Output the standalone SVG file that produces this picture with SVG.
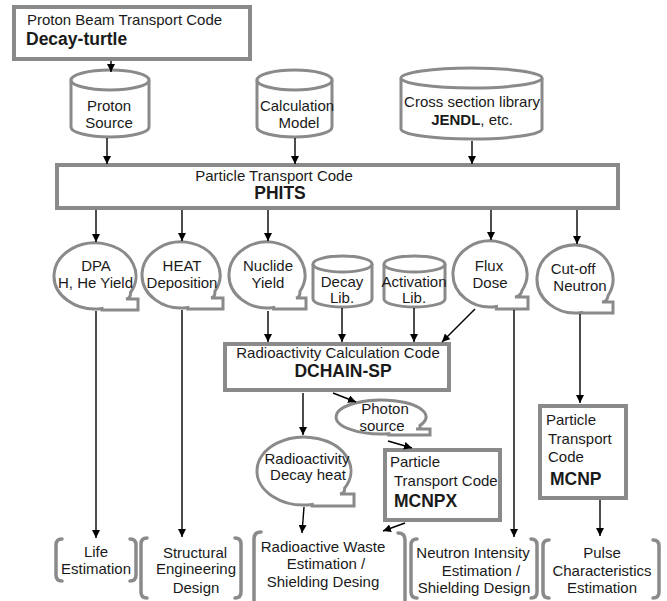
<svg xmlns="http://www.w3.org/2000/svg" width="667" height="601" viewBox="0 0 667 601">
<style>
text{font-family:"Liberation Sans",Arial,sans-serif;font-size:15px;fill:#1a1a1a}
.b{font-weight:bold;font-size:17.5px}
.bm{font-weight:bold}
.c{text-anchor:middle}
.box{fill:#fff;stroke:#8a8a8a;stroke-width:4}
.shp{fill:#fff;stroke:#8a8a8a;stroke-width:3}
.brk{fill:none;stroke:#8a8a8a;stroke-width:3.5;stroke-linecap:round}
.ar{fill:none;stroke:#000;stroke-width:1.4;marker-end:url(#ah)}
</style>
<defs>
<marker id="ah" viewBox="0 0 10 10" refX="10" refY="5" markerWidth="8" markerHeight="8" markerUnits="userSpaceOnUse" orient="auto">
<path d="M0,0 L10,5 L0,10 z" fill="#000"/>
</marker>
</defs>
<rect width="667" height="601" fill="#fff"/>

<g id="decay-turtle">
<rect class="box" x="14" y="7" width="236" height="52"/>
<text x="27" y="25">Proton Beam Transport Code</text>
<text class="b" x="26" y="45">Decay-turtle</text>
</g>

<g id="proton-source">
<path class="shp" d="M71,80 L71,127 A39,10 0 0 0 149,127 L149,80"/>
<ellipse class="shp" cx="110" cy="80" rx="39" ry="10"/>
<text class="c" x="109" y="111">Proton</text>
<text class="c" x="109" y="128">Source</text>
</g>

<g id="calculation-model">
<path class="shp" d="M257,80 L257,127 A37.5,10 0 0 0 332,127 L332,80"/>
<ellipse class="shp" cx="294.5" cy="80" rx="37.5" ry="10"/>
<text class="c" x="297" y="111">Calculation</text>
<text class="c" x="299" y="128">Model</text>
</g>

<g id="cross-section">
<path class="shp" d="M401,78 L401,129 A70.5,10 0 0 0 542,129 L542,78"/>
<ellipse class="shp" cx="471.5" cy="78" rx="70.5" ry="10"/>
<text class="c" x="472" y="107">Cross section library</text>
<text class="c" x="472" y="125"><tspan class="bm">JENDL</tspan>, etc.</text>
</g>

<g id="phits">
<rect class="box" x="57" y="165" width="561" height="43"/>
<text class="c" x="274" y="181">Particle Transport Code</text>
<text class="b c" x="280" y="199">PHITS</text>
</g>

<g id="dpa">
<path class="shp" d="M102,308.5 A41,33 0 1 1 130.5,292.5 Q131,298 126,299 L138,299 L138,310 L102,310 Z"/>
<text class="c" x="96" y="271">DPA</text>
<text class="c" x="95.5" y="288">H, He Yield</text>
</g>

<g id="heat">
<path class="shp" d="M187.8,307.5 A39,33 0 1 1 214.8,291.5 Q215.5,297 211,298 L223,298 L223,309 L187.8,309 Z"/>
<text class="c" x="182" y="271">HEAT</text>
<text class="c" x="182" y="288">Deposition</text>
</g>

<g id="nuclide">
<path class="shp" d="M273.6,307.5 A38,33 0 1 1 299.9,291.5 Q300.5,297 296,298 L306,298 L306,309 L273.6,309 Z"/>
<text class="c" x="268" y="271">Nuclide</text>
<text class="c" x="268" y="288">Yield</text>
</g>

<g id="decay-lib">
<path class="shp" d="M313,264 L313,299 A29.5,8 0 0 0 372,299 L372,264"/>
<ellipse class="shp" cx="342.5" cy="264" rx="29.5" ry="8"/>
<text class="c" x="342" y="287">Decay</text>
<text class="c" x="342" y="303">Lib.</text>
</g>

<g id="activation-lib">
<path class="shp" d="M384,264 L384,299 A30.5,8 0 0 0 445,299 L445,264"/>
<ellipse class="shp" cx="414.5" cy="264" rx="30.5" ry="8"/>
<text class="c" x="414" y="287">Activation</text>
<text class="c" x="414" y="303">Lib.</text>
</g>

<g id="flux">
<path class="shp" d="M496.4,306.5 A37,33 0 1 1 522,290.5 Q521,296 515,297 L528,297 L528,309 L496.4,309 Z"/>
<text class="c" x="489" y="271">Flux</text>
<text class="c" x="490" y="288">Dose</text>
</g>

<g id="cutoff">
<path class="shp" d="M581.6,312.5 A38,34 0 1 1 607.9,296 Q607.5,301.5 602,302 L613,302 L613,313 L581.6,313 Z"/>
<text class="c" x="573" y="274">Cut-off</text>
<text class="c" x="580" y="291">Neutron</text>
</g>

<g id="dchain">
<rect class="box" x="225" y="344" width="224" height="46"/>
<text class="c" x="338" y="358">Radioactivity Calculation Code</text>
<text class="b c" x="343" y="377">DCHAIN-SP</text>
</g>

<g id="photon">
<path class="shp" d="M388.8,433.7 A45,17 0 1 1 420,425.5 Q421,429 416,429 L430,429 L430,435 L388.8,435 Z"/>
<text class="c" x="385" y="414">Photon</text>
<text class="c" x="382" y="431">source</text>
</g>

<g id="decay-heat">
<path class="shp" d="M312.2,504.5 A47,34 0 1 1 344.7,488 Q345,493.5 340,494 L354,494 L354,506 L312.2,506 Z"/>
<text class="c" x="307" y="464">Radioactivity</text>
<text class="c" x="308" y="480">Decay heat</text>
</g>

<g id="mcnpx">
<rect class="box" x="385" y="450" width="115" height="70"/>
<text x="390" y="467">Particle</text>
<text x="394" y="486">Transport Code</text>
<text class="b" x="394" y="507">MCNPX</text>
</g>

<g id="mcnp">
<rect class="box" x="540" y="406" width="86" height="92"/>
<text x="546" y="425">Particle</text>
<text x="548" y="444">Transport</text>
<text x="548" y="462">Code</text>
<text class="b" x="550" y="485">MCNP</text>
</g>

<g id="life">
<path class="brk" d="M62,539 Q56,539 56,545 L56,575 Q56,581 62,581"/>
<path class="brk" d="M130,539 Q136,539 136,545 L136,575 Q136,581 130,581"/>
<text class="c" x="96" y="557">Life</text>
<text class="c" x="96" y="574">Estimation</text>
</g>

<g id="structural">
<path class="brk" d="M147,538 Q141,538 141,544 L141,592 Q141,598 147,598"/>
<path class="brk" d="M235,538 Q241,538 241,544 L241,592 Q241,598 235,598"/>
<text class="c" x="195" y="558">Structural</text>
<text class="c" x="196" y="574">Engineering</text>
<text class="c" x="196" y="593">Design</text>
</g>

<g id="waste">
<path class="brk" d="M261,532 Q254,532 254,539 L254,603"/>
<path class="brk" d="M398,533 Q405,533 405,540 L405,603"/>
<text class="c" x="323" y="552">Radioactive Waste</text>
<text class="c" x="326" y="569">Estimation /</text>
<text class="c" x="323" y="587">Shielding Desing</text>
</g>

<g id="neutron">
<path class="brk" d="M417,539 Q411,539 411,545 L411,592 Q411,598 417,598"/>
<path class="brk" d="M531,539 Q537,539 537,545 L537,592 Q537,598 531,598"/>
<text class="c" x="473" y="558">Neutron Intensity</text>
<text class="c" x="481" y="576">Estimation /</text>
<text class="c" x="474" y="593">Shielding Design</text>
</g>

<g id="pulse">
<path class="brk" d="M549,540 Q543,540 543,546 L543,592 Q543,598 549,598"/>
<path class="brk" d="M653,540 Q659,540 659,546 L659,592 Q659,598 653,598"/>
<text class="c" x="602" y="558">Pulse</text>
<text class="c" x="602" y="576">Characteristics</text>
<text class="c" x="602" y="593">Estimation</text>
</g>

<g id="connectors">
<line class="ar" x1="111" y1="61" x2="111" y2="72"/>
<line class="ar" x1="107" y1="138" x2="107" y2="164"/>
<line class="ar" x1="295" y1="138" x2="295" y2="164"/>
<line class="ar" x1="472" y1="141" x2="472" y2="164"/>
<line class="ar" x1="96" y1="210" x2="96" y2="242"/>
<line class="ar" x1="182" y1="210" x2="182" y2="241"/>
<line class="ar" x1="268" y1="210" x2="268" y2="241"/>
<line class="ar" x1="491" y1="210" x2="491" y2="240"/>
<line class="ar" x1="577" y1="210" x2="577" y2="244"/>
<line class="ar" x1="268" y1="311" x2="268" y2="342"/>
<line class="ar" x1="342" y1="308" x2="342" y2="342"/>
<line class="ar" x1="414" y1="308" x2="414" y2="342"/>
<line class="ar" x1="475" y1="309" x2="442" y2="342"/>
<line class="ar" x1="303" y1="393" x2="303" y2="435"/>
<line class="ar" x1="333" y1="393" x2="356" y2="402"/>
<line class="ar" x1="388" y1="441" x2="412" y2="448"/>
<line class="ar" x1="304" y1="507" x2="302" y2="533"/>
<line class="ar" x1="405" y1="523" x2="383" y2="531"/>
<line class="ar" x1="96" y1="311" x2="96" y2="538"/>
<line class="ar" x1="182" y1="310" x2="182" y2="537"/>
<line class="ar" x1="514" y1="310" x2="514" y2="537"/>
<line class="ar" x1="580" y1="314" x2="580" y2="403"/>
<line class="ar" x1="600" y1="500" x2="600" y2="536"/>
</g>
</svg>
